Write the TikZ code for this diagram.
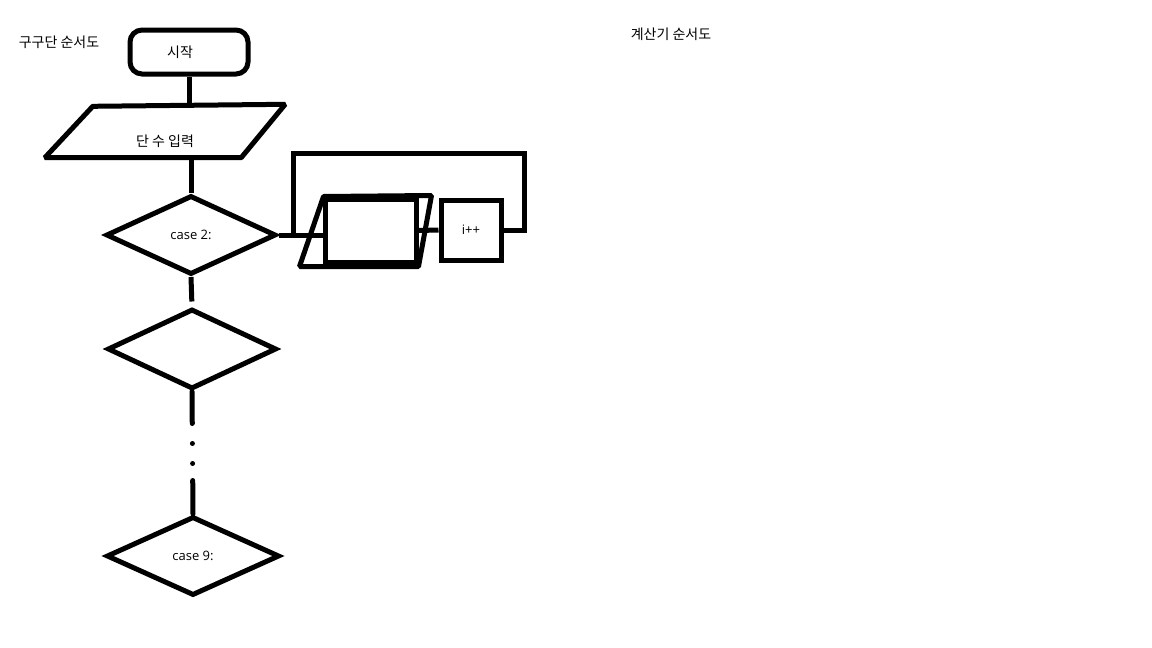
\documentclass[tikz,border=0pt]{standalone}
\usepackage{fontspec}
\setmainfont{Noto Sans CJK KR}
\newfontfamily\latinfont{Open Sans}
\usepackage{tikz}
\usetikzlibrary{shapes.geometric}
\usetikzlibrary{positioning}
\usetikzlibrary{calc}

\begin{document}
\begin{tikzpicture}
[x=1pt, y=-1pt,
 every node/.style={font=\fontsize{14}{16}\selectfont},
 latin/.style      ={font=\latinfont\fontsize{13}{15}\selectfont},
 thick line/.style ={line width=5pt},
 terminal/.style   ={rectangle, draw, thick line, rounded corners=12pt, minimum width=118pt, minimum height=44pt},
 iobody/.style     ={rectangle, inner sep=0pt},
 ioframe/.style    ={draw, thick line, line join=bevel},
 decision/.style   ={diamond, draw, thick line, inner sep=0pt},
 process/.style    ={rectangle, draw, thick line, inner sep=0pt},
 line/.style       ={draw, thick line},
 label/.style      ={inner sep=0pt}]

\useasboundingbox (0,0) rectangle (1152,648);

\node[label] (title) at (59,42) {구구단 순서도};
\node[label] (calc) at (671,34) {계산기 순서도};

\node[terminal] (start) at (189,52) {\hspace*{-18pt}시작};

\node[iobody, minimum width=240pt, minimum height=53pt] (input) at (165,131) {\raisebox{-15pt}[0pt][0pt]{단 수 입력}};

\node[decision, latin, minimum width=170pt, minimum height=79pt] (case2) at (191,235) {case 2:};
\node[decision, minimum width=169pt, minimum height=80pt] (case3) at (192,349) {};
\node[decision, latin, minimum width=173pt, minimum height=79pt] (case9) at (193,556) {case 9:};

\node[process, minimum width=91pt, minimum height=63pt] (box) at (370.5,230.5) {};
\node[process, latin, minimum width=60pt, minimum height=60pt] (inc) at (471,230) {i++};

% input and output parallelograms
\path[ioframe] (input.south west) -- ($(input.north west)+(48,2)$) -- (input.north east) -- ($(input.south east)+(-44,0)$) -- cycle;
\path[ioframe] ($(box.south west)+(-23,2)$) -- ($(box.north west)+(1,0)$) -- ($(box.north east)+(13,-1)$) -- ($(box.south east)+(0,2)$) -- cycle;

\coordinate (loopin) at (293,235);
\coordinate (looptop) at (524,153);

\path[line] (start.south) -- (start.south |- input.north);
\path[line] (case2.north |- input.south) -- (case2.north);
\path[line, shorten >=5pt] (case2.south) -- (case3.north);
\path[line, line cap=round, dash pattern=on 32pt off 20pt on 0pt off 20pt on 0pt off 17pt on 60pt] (case3.south) -- (case9.north);

\path[line] (case2.east) -- (case2.east -| box.west);
\path[line] (box.east) -- (inc.west);
\path[line] (inc.east) -| (looptop) -| (loopin);
\end{tikzpicture}
\end{document}
